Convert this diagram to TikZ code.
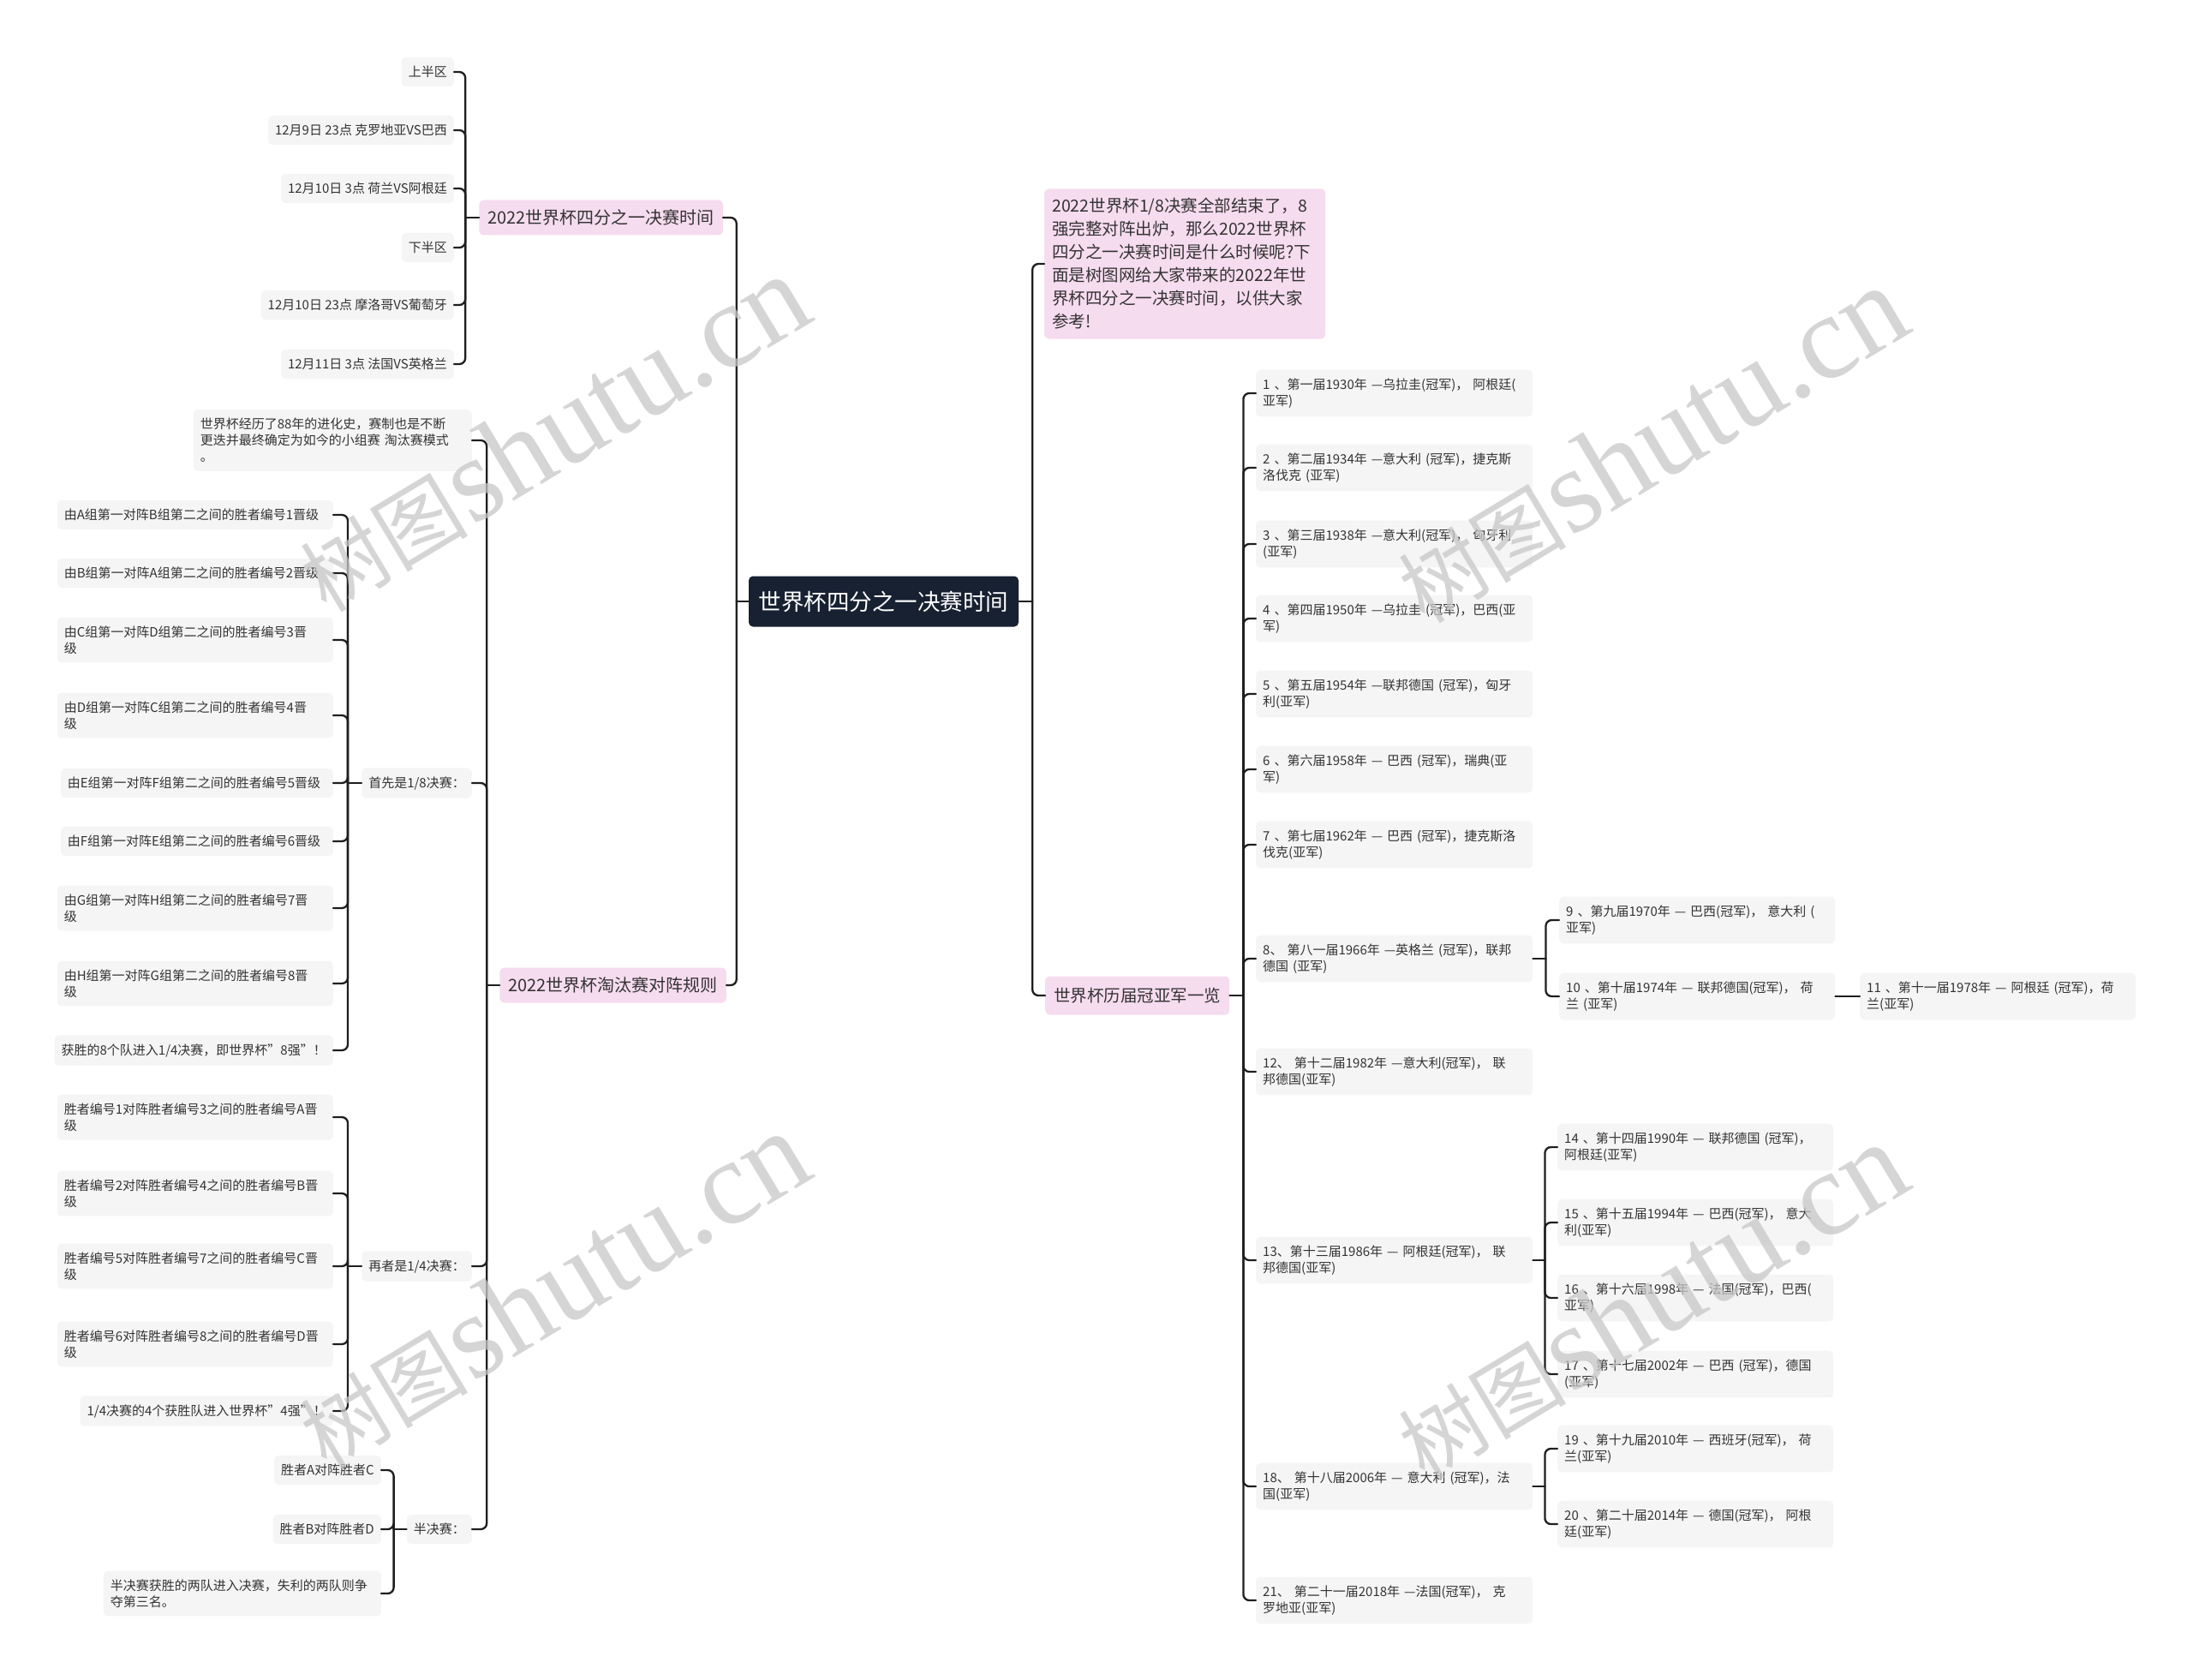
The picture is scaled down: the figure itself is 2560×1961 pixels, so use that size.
\documentclass[tikz,border=0pt]{standalone}
\usepackage{fontspec}
\setmainfont{Noto Sans CJK SC}
\newfontfamily\wmserif{Liberation Serif}
\usepackage{tikz}
\usetikzlibrary{positioning}
\definecolor{rootbg}{HTML}{172132}
\definecolor{pinkbg}{HTML}{F6DCEF}
\definecolor{leafbg}{HTML}{F5F5F5}
\definecolor{linec}{HTML}{1E1E1E}
\definecolor{txt}{HTML}{333333}
\tikzset{
  root/.style={fill=rootbg, text=white, rounded corners=5pt,
    font=\fontsize{26.5}{32}\selectfont, inner xsep=10pt, minimum width=315pt, minimum height=59pt},
  topic/.style={fill=pinkbg, text=txt, rounded corners=5pt,
    font=\fontsize{20}{25}\selectfont, inner xsep=10pt, minimum height=41pt},
  note/.style={fill=pinkbg, text=txt, rounded corners=5pt, align=left,
    font=\fontsize{19.5}{27}\selectfont, text width=310pt, inner xsep=9pt, inner ysep=11pt},
  leaf/.style={fill=leafbg, text=txt, rounded corners=5pt, align=left,
    font=\fontsize{15}{19}\selectfont, inner xsep=8pt, inner ysep=10pt, minimum height=34pt},
  link/.style={draw=linec, line width=2.3pt, rounded corners=7pt, line cap=round},
  wmark/.style={rotate=31, text=black!22, opacity=0.75, inner sep=0pt}
}

\begin{document}
\begin{tikzpicture}[x=1pt, y=-1pt]

  \fill[white] (0,0) rectangle (2560,1961);
  \useasboundingbox (0,0) rectangle (2560,1961);

  \node (root) [root] at (1031.5,702) {世界杯四分之一决赛时间};

  % left half
  \node (l1a) [topic, anchor=east] at (844,254) {2022世界杯四分之一决赛时间};
  \node (l1b) [topic, anchor=east] at (848,1150) {2022世界杯淘汰赛对阵规则};

  \node (a1) [leaf, anchor=east] at (530,84) {上半区};
  \node (a2) [leaf, anchor=east] at (530,152) {12月9日 23点 克罗地亚VS巴西};
  \node (a3) [leaf, anchor=east] at (530,220) {12月10日 3点 荷兰VS阿根廷};
  \node (a4) [leaf, anchor=east] at (530,289) {下半区};
  \node (a5) [leaf, anchor=east] at (530,356) {12月10日 23点 摩洛哥VS葡萄牙};
  \node (a6) [leaf, anchor=east] at (530,425) {12月11日 3点 法国VS英格兰};

  \node (b1) [leaf, anchor=east, text width=309pt] at (551,514)
    {世界杯经历了88年的进化史，赛制也是不断\\更迭并最终确定为如今的小组赛 淘汰赛模式\\。};
  \node (b2) [leaf, anchor=east] at (551,914) {首先是1/8决赛：};
  \node (b3) [leaf, anchor=east] at (551,1478) {再者是1/4决赛：};
  \node (b4) [leaf, anchor=east] at (551,1785) {半决赛：};

  \node (c1) [leaf, anchor=east, text width=306pt] at (389,601) {由A组第一对阵B组第二之间的胜者编号1晋级};
  \node (c2) [leaf, anchor=east, text width=306pt] at (389,669) {由B组第一对阵A组第二之间的胜者编号2晋级};
  \node (c3) [leaf, anchor=east, text width=306pt] at (389,747) {由C组第一对阵D组第二之间的胜者编号3晋\\级};
  \node (c4) [leaf, anchor=east, text width=306pt] at (389,835) {由D组第一对阵C组第二之间的胜者编号4晋\\级};
  \node (c5) [leaf, anchor=east, text width=302pt] at (389,914) {由E组第一对阵F组第二之间的胜者编号5晋级};
  \node (c6) [leaf, anchor=east, text width=302pt] at (389,982) {由F组第一对阵E组第二之间的胜者编号6晋级};
  \node (c7) [leaf, anchor=east, text width=306pt] at (389,1060) {由G组第一对阵H组第二之间的胜者编号7晋\\级};
  \node (c8) [leaf, anchor=east, text width=306pt] at (389,1148) {由H组第一对阵G组第二之间的胜者编号8晋\\级};
  \node (c9) [leaf, anchor=east] at (389,1226) {获胜的8个队进入1/4决赛，即世界杯"8强"！};

  \node (d1) [leaf, anchor=east, text width=306pt] at (389,1304) {胜者编号1对阵胜者编号3之间的胜者编号A晋\\级};
  \node (d2) [leaf, anchor=east, text width=306pt] at (389,1393) {胜者编号2对阵胜者编号4之间的胜者编号B晋\\级};
  \node (d3) [leaf, anchor=east, text width=306pt] at (389,1478) {胜者编号5对阵胜者编号7之间的胜者编号C晋\\级};
  \node (d4) [leaf, anchor=east, text width=306pt] at (389,1569) {胜者编号6对阵胜者编号8之间的胜者编号D晋\\级};
  \node (d5) [leaf, anchor=east] at (389,1647) {1/4决赛的4个获胜队进入世界杯"4强"！};

  \node (e1) [leaf, anchor=east] at (445,1716) {胜者A对阵胜者C};
  \node (e2) [leaf, anchor=east] at (445,1785) {胜者B对阵胜者D};
  \node (e3) [leaf, anchor=east, text width=308pt] at (445,1860)
    {半决赛获胜的两队进入决赛，失利的两队则争\\夺第三名。};

  % right half
  \node (r1a) [note, anchor=west] at (1219,308)
    {2022世界杯1/8决赛全部结束了，8\\强完整对阵出炉，那么2022世界杯\\四分之一决赛时间是什么时候呢?下\\面是树图网给大家带来的2022年世\\界杯四分之一决赛时间，以供大家\\参考!};
  \node (r1b) [topic, anchor=west, font=\fontsize{19.5}{24}\selectfont, minimum height=45pt] at (1220,1162) {世界杯历届冠亚军一览};

  \node (s1) [leaf, anchor=west, text width=307pt] at (1466,459) {1 、第一届1930年 —乌拉圭(冠军)， 阿根廷(\\亚军)};
  \node (s2) [leaf, anchor=west, text width=307pt] at (1466,546) {2 、第二届1934年 —意大利 (冠军)，捷克斯\\洛伐克 (亚军)};
  \node (s3) [leaf, anchor=west, text width=307pt] at (1466,635) {3 、第三届1938年 —意大利(冠军)， 匈牙利\\(亚军)};
  \node (s4) [leaf, anchor=west, text width=307pt] at (1466,722) {4 、第四届1950年 —乌拉圭 (冠军)，巴西(亚\\军)};
  \node (s5) [leaf, anchor=west, text width=307pt] at (1466,810) {5 、第五届1954年 —联邦德国 (冠军)，匈牙\\利(亚军)};
  \node (s6) [leaf, anchor=west, text width=307pt] at (1466,898) {6 、第六届1958年 — 巴西 (冠军)，瑞典(亚\\军)};
  \node (s7) [leaf, anchor=west, text width=307pt] at (1466,986) {7 、第七届1962年 — 巴西 (冠军)，捷克斯洛\\伐克(亚军)};
  \node (s8) [leaf, anchor=west, text width=307pt] at (1466,1119) {8、 第八一届1966年 —英格兰 (冠军)，联邦\\德国 (亚军)};
  \node (s12) [leaf, anchor=west, text width=307pt] at (1466,1251) {12、 第十二届1982年 —意大利(冠军)， 联\\邦德国(亚军)};
  \node (s13) [leaf, anchor=west, text width=307pt] at (1466,1471) {13、第十三届1986年 — 阿根廷(冠军)， 联\\邦德国(亚军)};
  \node (s18) [leaf, anchor=west, text width=307pt] at (1466,1735) {18、 第十八届2006年 — 意大利 (冠军)，法\\国(亚军)};
  \node (s21) [leaf, anchor=west, text width=307pt] at (1466,1868) {21、 第二十一届2018年 —法国(冠军)， 克\\罗地亚(亚军)};

  \node (s9) [leaf, anchor=west, text width=306pt] at (1820,1074) {9 、第九届1970年 — 巴西(冠军)， 意大利 (\\亚军)};
  \node (s10) [leaf, anchor=west, text width=306pt] at (1820,1163) {10 、第十届1974年 — 联邦德国(冠军)， 荷\\兰 (亚军)};
  \node (s11) [leaf, anchor=west, text width=306pt] at (2171,1163) {11 、第十一届1978年 — 阿根廷 (冠军)，荷\\兰(亚军)};
  \node (s14) [leaf, anchor=west, text width=306pt] at (1818,1339) {14 、第十四届1990年 — 联邦德国 (冠军)，\\阿根廷(亚军)};
  \node (s15) [leaf, anchor=west, text width=306pt] at (1818,1427) {15 、第十五届1994年 — 巴西(冠军)， 意大\\利(亚军)};
  \node (s16) [leaf, anchor=west, text width=306pt] at (1818,1515) {16 、第十六届1998年 — 法国(冠军)，巴西(\\亚军)};
  \node (s17) [leaf, anchor=west, text width=306pt] at (1818,1604) {17 、第十七届2002年 — 巴西 (冠军)，德国\\(亚军)};
  \node (s19) [leaf, anchor=west, text width=306pt] at (1818,1691) {19 、第十九届2010年 — 西班牙(冠军)， 荷\\兰(亚军)};
  \node (s20) [leaf, anchor=west, text width=306pt] at (1818,1779) {20 、第二十届2014年 — 德国(冠军)， 阿根\\廷(亚军)};

  % connectors
  \draw[link] (root.west) -- ++(-14,0) coordinate (jl);
  \draw[link] (jl) |- (l1a.east);
  \draw[link] (jl) |- (l1b.east);

  \draw[link] (l1a.west) -- ++(-16,0) coordinate (ja);
  \foreach \c in {a1,a2,a3,a4,a5,a6} \draw[link] (ja) |- (\c.east);

  \draw[link] (l1b.west) -- ++(-15,0) coordinate (jb);
  \foreach \c in {b1,b2,b3,b4} \draw[link] (jb) |- (\c.east);

  \draw[link] (b2.west) -- ++(-16,0) coordinate (jc);
  \foreach \c in {c1,c2,c3,c4,c5,c6,c7,c8,c9} \draw[link] (jc) |- (\c.east);

  \draw[link] (b3.west) -- ++(-16,0) coordinate (jd);
  \foreach \c in {d1,d2,d3,d4,d5} \draw[link] (jd) |- (\c.east);

  \draw[link] (b4.west) -- ++(-15,0) coordinate (je);
  \foreach \c in {e1,e2,e3} \draw[link] (je) |- (\c.east);

  \draw[link] (root.east) -- ++(16,0) coordinate (jr);
  \draw[link] (jr) |- (r1a.west);
  \draw[link] (jr) |- (r1b.west);

  \draw[link] (r1b.east) -- ++(16,0) coordinate (js);
  \foreach \c in {s1,s2,s3,s4,s5,s6,s7,s8,s12,s13,s18,s21} \draw[link] (js) |- (\c.west);

  \draw[link] (s8.east) -- ++(15,0) coordinate (j8);
  \foreach \c in {s9,s10} \draw[link] (j8) |- (\c.west);
  \draw[link] (s10.east) -- (s11.west);

  \draw[link] (s13.east) -- ++(14,0) coordinate (j13);
  \foreach \c in {s14,s15,s16,s17} \draw[link] (j13) |- (\c.west);

  \draw[link] (s18.east) -- ++(14,0) coordinate (j18);
  \foreach \c in {s19,s20} \draw[link] (j18) |- (\c.west);

  % watermark
  \foreach \wx/\wy/\wn in {645/506/1, 1927/519/2, 645/1506/3, 1927/1519/4}
    \node (wm\wn) [wmark] at (\wx,\wy)
      {{\fontsize{98}{98}\selectfont 树图}\,{\wmserif\fontsize{140}{140}\selectfont shutu.cn}};

\end{tikzpicture}
\end{document}
